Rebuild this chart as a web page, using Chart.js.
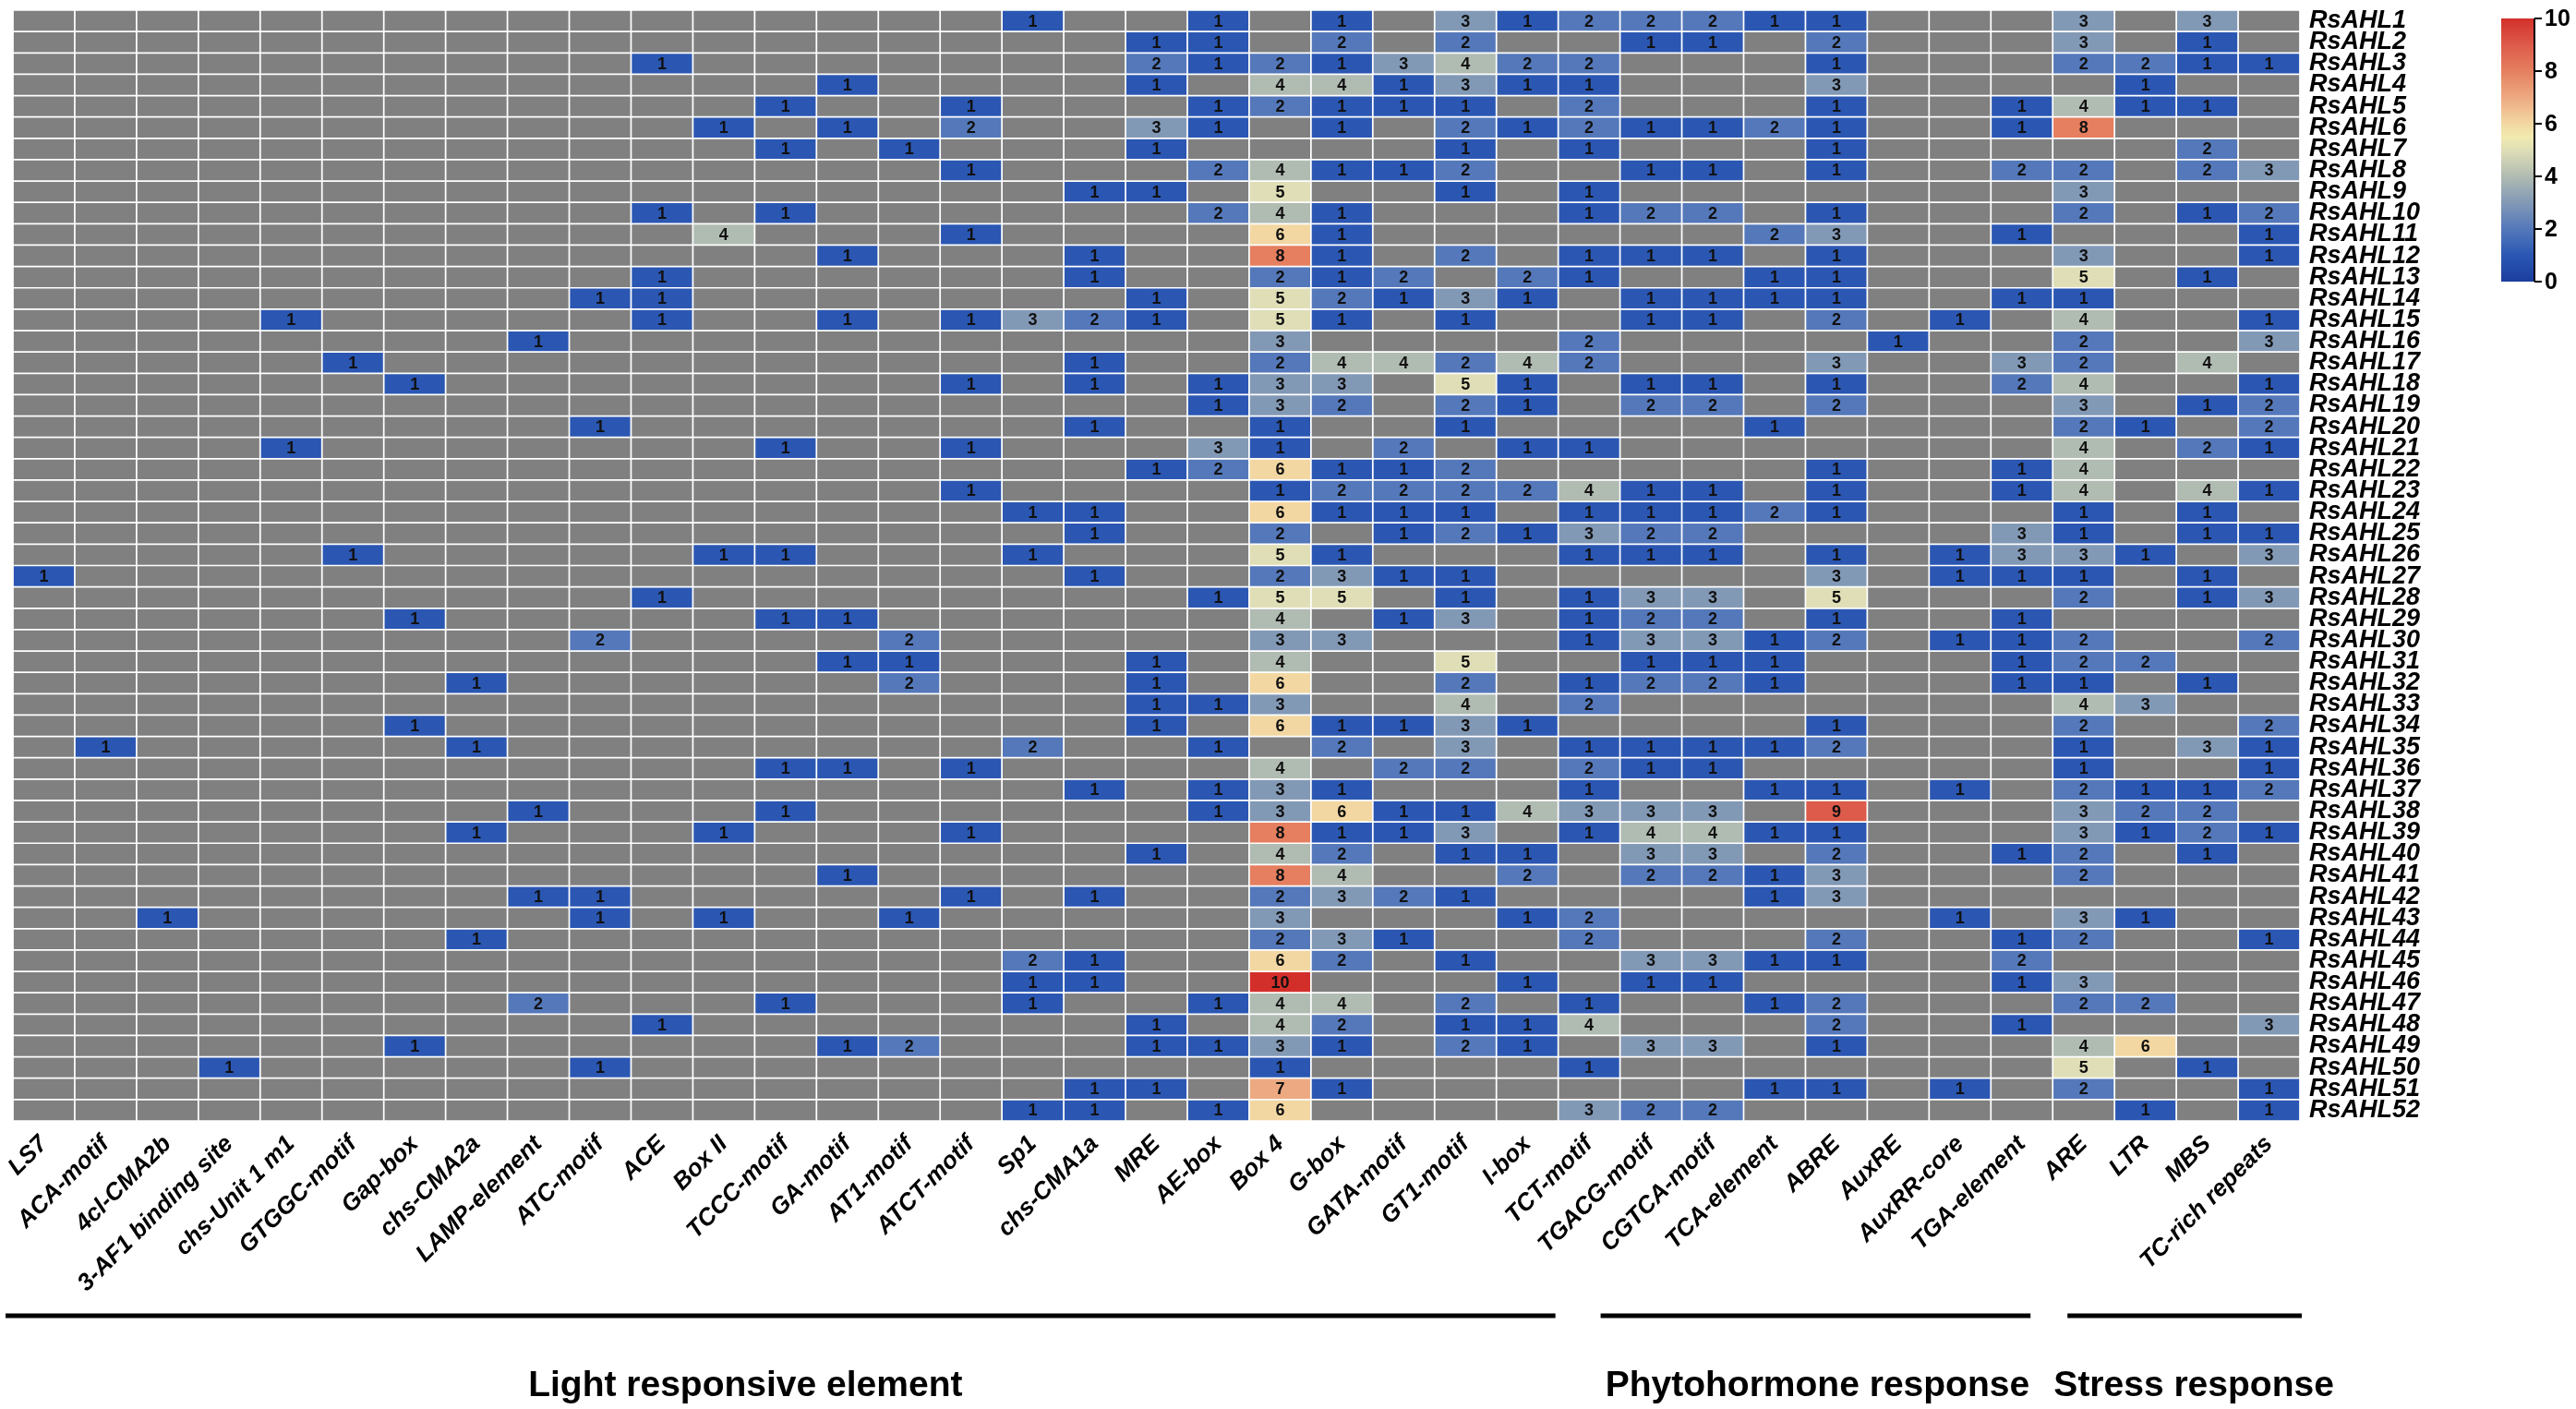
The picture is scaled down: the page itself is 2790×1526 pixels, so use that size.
<!DOCTYPE html>
<html><head><meta charset="utf-8">
<script src="https://cdn.jsdelivr.net/npm/chart.js@4.4.1/dist/chart.umd.min.js"></script>
<style>html,body{margin:0;padding:0;background:#fff;overflow:hidden}canvas{display:block}</style>
</head><body>
<canvas id="c" width="2790" height="1526" style="width:2790px;height:1526px"></canvas>
<script>
// ---------- DATA ----------
const elements = ["LS7","ACA-motif","4cl-CMA2b","3-AF1 binding site","chs-Unit 1 m1","GTGGC-motif","Gap-box","chs-CMA2a","LAMP-element","ATC-motif","ACE","Box II","TCCC-motif","GA-motif","AT1-motif","ATCT-motif","Sp1","chs-CMA1a","MRE","AE-box","Box 4","G-box","GATA-motif","GT1-motif","I-box","TCT-motif","TGACG-motif","CGTCA-motif","TCA-element","ABRE","AuxRE","AuxRR-core","TGA-element","ARE","LTR","MBS","TC-rich repeats"];
const genes = ["RsAHL1","RsAHL2","RsAHL3","RsAHL4","RsAHL5","RsAHL6","RsAHL7","RsAHL8","RsAHL9","RsAHL10","RsAHL11","RsAHL12","RsAHL13","RsAHL14","RsAHL15","RsAHL16","RsAHL17","RsAHL18","RsAHL19","RsAHL20","RsAHL21","RsAHL22","RsAHL23","RsAHL24","RsAHL25","RsAHL26","RsAHL27","RsAHL28","RsAHL29","RsAHL30","RsAHL31","RsAHL32","RsAHL33","RsAHL34","RsAHL35","RsAHL36","RsAHL37","RsAHL38","RsAHL39","RsAHL40","RsAHL41","RsAHL42","RsAHL43","RsAHL44","RsAHL45","RsAHL46","RsAHL47","RsAHL48","RsAHL49","RsAHL50","RsAHL51","RsAHL52"];
// LS7 ... ATCT-motif
const countsA = [
[0,0,0,0,0,0,0,0,0,0,0,0,0,0,0,0],[0,0,0,0,0,0,0,0,0,0,0,0,0,0,0,0],[0,0,0,0,0,0,0,0,0,0,1,0,0,0,0,0],[0,0,0,0,0,0,0,0,0,0,0,0,0,1,0,0],
[0,0,0,0,0,0,0,0,0,0,0,0,1,0,0,1],[0,0,0,0,0,0,0,0,0,0,0,1,0,1,0,2],[0,0,0,0,0,0,0,0,0,0,0,0,1,0,1,0],[0,0,0,0,0,0,0,0,0,0,0,0,0,0,0,1],
[0,0,0,0,0,0,0,0,0,0,0,0,0,0,0,0],[0,0,0,0,0,0,0,0,0,0,1,0,1,0,0,0],[0,0,0,0,0,0,0,0,0,0,0,4,0,0,0,1],[0,0,0,0,0,0,0,0,0,0,0,0,0,1,0,0],
[0,0,0,0,0,0,0,0,0,0,1,0,0,0,0,0],[0,0,0,0,0,0,0,0,0,1,1,0,0,0,0,0],[0,0,0,0,1,0,0,0,0,0,1,0,0,1,0,1],[0,0,0,0,0,0,0,0,1,0,0,0,0,0,0,0],
[0,0,0,0,0,1,0,0,0,0,0,0,0,0,0,0],[0,0,0,0,0,0,1,0,0,0,0,0,0,0,0,1],[0,0,0,0,0,0,0,0,0,0,0,0,0,0,0,0],[0,0,0,0,0,0,0,0,0,1,0,0,0,0,0,0],
[0,0,0,0,1,0,0,0,0,0,0,0,1,0,0,1],[0,0,0,0,0,0,0,0,0,0,0,0,0,0,0,0],[0,0,0,0,0,0,0,0,0,0,0,0,0,0,0,1],[0,0,0,0,0,0,0,0,0,0,0,0,0,0,0,0],
[0,0,0,0,0,0,0,0,0,0,0,0,0,0,0,0],[0,0,0,0,0,1,0,0,0,0,0,1,1,0,0,0],[1,0,0,0,0,0,0,0,0,0,0,0,0,0,0,0],[0,0,0,0,0,0,0,0,0,0,1,0,0,0,0,0],
[0,0,0,0,0,0,1,0,0,0,0,0,1,1,0,0],[0,0,0,0,0,0,0,0,0,2,0,0,0,0,2,0],[0,0,0,0,0,0,0,0,0,0,0,0,0,1,1,0],[0,0,0,0,0,0,0,1,0,0,0,0,0,0,2,0],
[0,0,0,0,0,0,0,0,0,0,0,0,0,0,0,0],[0,0,0,0,0,0,1,0,0,0,0,0,0,0,0,0],[0,1,0,0,0,0,0,1,0,0,0,0,0,0,0,0],[0,0,0,0,0,0,0,0,0,0,0,0,1,1,0,1],
[0,0,0,0,0,0,0,0,0,0,0,0,0,0,0,0],[0,0,0,0,0,0,0,0,1,0,0,0,1,0,0,0],[0,0,0,0,0,0,0,1,0,0,0,1,0,0,0,1],[0,0,0,0,0,0,0,0,0,0,0,0,0,0,0,0],
[0,0,0,0,0,0,0,0,0,0,0,0,0,1,0,0],[0,0,0,0,0,0,0,0,1,1,0,0,0,0,0,1],[0,0,1,0,0,0,0,0,0,1,0,1,0,0,1,0],[0,0,0,0,0,0,0,1,0,0,0,0,0,0,0,0],
[0,0,0,0,0,0,0,0,0,0,0,0,0,0,0,0],[0,0,0,0,0,0,0,0,0,0,0,0,0,0,0,0],[0,0,0,0,0,0,0,0,2,0,0,0,1,0,0,0],[0,0,0,0,0,0,0,0,0,0,1,0,0,0,0,0],
[0,0,0,0,0,0,1,0,0,0,0,0,0,1,2,0],[0,0,0,1,0,0,0,0,0,1,0,0,0,0,0,0],[0,0,0,0,0,0,0,0,0,0,0,0,0,0,0,0],[0,0,0,0,0,0,0,0,0,0,0,0,0,0,0,0]
];
// Sp1 ... TCA-element
const countsB = [
[1,0,0,1,0,1,0,3,1,2,2,2,1],[0,0,1,1,0,2,0,2,0,0,1,1,0],[0,0,2,1,2,1,3,4,2,2,0,0,0],[0,0,1,0,4,4,1,3,1,1,0,0,0],
[0,0,0,1,2,1,1,1,0,2,0,0,0],[0,0,3,1,0,1,0,2,1,2,1,1,2],[0,0,1,0,0,0,0,1,0,1,0,0,0],[0,0,0,2,4,1,1,2,0,0,1,1,0],
[0,1,1,0,5,0,0,1,0,1,0,0,0],[0,0,0,2,4,1,0,0,0,1,2,2,0],[0,0,0,0,6,1,0,0,0,0,0,0,2],[0,1,0,0,8,1,0,2,0,1,1,1,0],
[0,1,0,0,2,1,2,0,2,1,0,0,1],[0,0,1,0,5,2,1,3,1,0,1,1,1],[3,2,1,0,5,1,0,1,0,0,1,1,0],[0,0,0,0,3,0,0,0,0,2,0,0,0],
[0,1,0,0,2,4,4,2,4,2,0,0,0],[0,1,0,1,3,3,0,5,1,0,1,1,0],[0,0,0,1,3,2,0,2,1,0,2,2,0],[0,1,0,0,1,0,0,1,0,0,0,0,1],
[0,0,0,3,1,0,2,0,1,1,0,0,0],[0,0,1,2,6,1,1,2,0,0,0,0,0],[0,0,0,0,1,2,2,2,2,4,1,1,0],[1,1,0,0,6,1,1,1,0,1,1,1,2],
[0,1,0,0,2,0,1,2,1,3,2,2,0],[1,0,0,0,5,1,0,0,0,1,1,1,0],[0,1,0,0,2,3,1,1,0,0,0,0,0],[0,0,0,1,5,5,0,1,0,1,3,3,0],
[0,0,0,0,4,0,1,3,0,1,2,2,0],[0,0,0,0,3,3,0,0,0,1,3,3,1],[0,0,1,0,4,0,0,5,0,0,1,1,1],[0,0,1,0,6,0,0,2,0,1,2,2,1],
[0,0,1,1,3,0,0,4,0,2,0,0,0],[0,0,1,0,6,1,1,3,1,0,0,0,0],[2,0,0,1,0,2,0,3,0,1,1,1,1],[0,0,0,0,4,0,2,2,0,2,1,1,0],
[0,1,0,1,3,1,0,0,0,1,0,0,1],[0,0,0,1,3,6,1,1,4,3,3,3,0],[0,0,0,0,8,1,1,3,0,1,4,4,1],[0,0,1,0,4,2,0,1,1,0,3,3,0],
[0,0,0,0,8,4,0,0,2,0,2,2,1],[0,1,0,0,2,3,2,1,0,0,0,0,1],[0,0,0,0,3,0,0,0,1,2,0,0,0],[0,0,0,0,2,3,1,0,0,2,0,0,0],
[2,1,0,0,6,2,0,1,0,0,3,3,1],[1,1,0,0,10,0,0,0,1,0,1,1,0],[1,0,0,1,4,4,0,2,0,1,0,0,1],[0,0,1,0,4,2,0,1,1,4,0,0,0],
[0,0,1,1,3,1,0,2,1,0,3,3,0],[0,0,0,0,1,0,0,0,0,1,0,0,0],[0,1,1,0,7,1,0,0,0,0,0,0,1],[1,1,0,1,6,0,0,0,0,3,2,2,0]
];
// ABRE ... TC-rich repeats
const countsC = [
[1,0,0,0,3,0,3,0],[2,0,0,0,3,0,1,0],[1,0,0,0,2,2,1,1],[3,0,0,0,0,1,0,0],
[1,0,0,1,4,1,1,0],[1,0,0,1,8,0,0,0],[1,0,0,0,0,0,2,0],[1,0,0,2,2,0,2,3],
[0,0,0,0,3,0,0,0],[1,0,0,0,2,0,1,2],[3,0,0,1,0,0,0,1],[1,0,0,0,3,0,0,1],
[1,0,0,0,5,0,1,0],[1,0,0,1,1,0,0,0],[2,0,1,0,4,0,0,1],[0,1,0,0,2,0,0,3],
[3,0,0,3,2,0,4,0],[1,0,0,2,4,0,0,1],[2,0,0,0,3,0,1,2],[0,0,0,0,2,1,0,2],
[0,0,0,0,4,0,2,1],[1,0,0,1,4,0,0,0],[1,0,0,1,4,0,4,1],[1,0,0,0,1,0,1,0],
[0,0,0,3,1,0,1,1],[1,0,1,3,3,1,0,3],[3,0,1,1,1,0,1,0],[5,0,0,0,2,0,1,3],
[1,0,0,1,0,0,0,0],[2,0,1,1,2,0,0,2],[0,0,0,1,2,2,0,0],[0,0,0,1,1,0,1,0],
[0,0,0,0,4,3,0,0],[1,0,0,0,2,0,0,2],[2,0,0,0,1,0,3,1],[0,0,0,0,1,0,0,1],
[1,0,1,0,2,1,1,2],[9,0,0,0,3,2,2,0],[1,0,0,0,3,1,2,1],[2,0,0,1,2,0,1,0],
[3,0,0,0,2,0,0,0],[3,0,0,0,0,0,0,0],[0,0,1,0,3,1,0,0],[2,0,0,1,2,0,0,1],
[1,0,0,2,0,0,0,0],[0,0,0,1,3,0,0,0],[2,0,0,0,2,2,0,0],[2,0,0,1,0,0,0,3],
[1,0,0,0,4,6,0,0],[0,0,0,0,5,0,1,0],[1,0,1,0,2,0,0,1],[0,0,0,0,0,1,0,1]
];
const groupNames = ["Light responsive element","Phytohormone response","Stress response"];
const groupFirst = ["LS7","TGACG-motif","ARE"];
const groupLast = ["I-box","TGA-element","TC-rich repeats"];
const colorbarTicks = [0,2,4,6,8,10];

const counts = genes.map((g, i) => countsA[i].concat(countsB[i], countsC[i]));

// ---------- STYLE ----------
const FONT = "'Liberation Sans', Arial, sans-serif";
const EMPTY = '#808080';
const stops = [[0,[27,62,158]],[1,[43,87,179]],[2,[84,120,186]],[3,[130,153,182]],[4,[176,187,178]],[5,[223,222,182]],[5.5,[241,234,176]],[6,[242,215,162]],[7,[237,169,129]],[8,[229,127,95]],[9,[220,91,74]],[10,[211,47,42]]];
function ramp(v){
  for (let k = 1; k < stops.length; k++) {
    if (v <= stops[k][0]) {
      const [a, ca] = stops[k-1], [b, cb] = stops[k];
      const t = (v - a) / (b - a);
      const c = ca.map((x, n) => Math.round(x + (cb[n] - x) * t));
      return `rgb(${c[0]},${c[1]},${c[2]})`;
    }
  }
  const c = stops[stops.length-1][1];
  return `rgb(${c[0]},${c[1]},${c[2]})`;
}
const cellColor = v => v > 0 ? ramp(v) : EMPTY;

const LAYOUT = {
  left: 14, top: 11, plotRight: 2491, plotBottom: 1214,
  lineY: 1425, lineW: 5,
  lineShift: [[-8,-3],[-21,-24],[16,2]],
  labelShift: [-38, 2, 10],
  labelY: 1512,
  cbX: 2709, cbW: 36, cbTop: 20, cbBottom: 305
};

// ---------- PLUGINS ----------
const cellText = {
  id: 'cellText',
  afterDatasetsDraw(chart) {
    const {ctx, scales: {x, y}} = chart;
    ctx.save();
    ctx.font = "bold 18px 'Liberation Sans Narrow', " + FONT;
    ctx.fillStyle = '#111';
    ctx.textAlign = 'center';
    ctx.textBaseline = 'middle';
    counts.forEach((row, i) => row.forEach((v, j) => {
      if (v > 0) ctx.fillText(String(v), x.getPixelForValue(j), y.getPixelForValue(i + 0.5) + 1);
    }));
    ctx.restore();
  }
};

const groups = {
  id: 'groups',
  afterDraw(chart) {
    const {ctx, scales: {x}} = chart;
    const half = (x.getPixelForValue(1) - x.getPixelForValue(0)) / 2;
    ctx.save();
    groupNames.forEach((name, g) => {
      const x0 = x.getPixelForValue(elements.indexOf(groupFirst[g])) - half + LAYOUT.lineShift[g][0];
      const x1 = x.getPixelForValue(elements.indexOf(groupLast[g])) + half + LAYOUT.lineShift[g][1];
      ctx.fillStyle = '#000';
      ctx.fillRect(x0, LAYOUT.lineY - LAYOUT.lineW / 2, x1 - x0, LAYOUT.lineW);
      ctx.font = "bold 39px " + FONT;
      ctx.textAlign = 'center';
      ctx.textBaseline = 'alphabetic';
      ctx.fillText(name, (x0 + x1) / 2 + LAYOUT.labelShift[g], LAYOUT.labelY);
    });
    ctx.restore();
  }
};

const colorbar = {
  id: 'colorbar',
  afterDraw(chart) {
    const ctx = chart.ctx;
    const L = LAYOUT;
    const lo = colorbarTicks[0], hi = colorbarTicks[colorbarTicks.length - 1];
    const yOf = v => L.cbBottom - (v - lo) / (hi - lo) * (L.cbBottom - L.cbTop);
    ctx.save();
    const grad = ctx.createLinearGradient(0, L.cbBottom, 0, L.cbTop);
    for (let v = lo; v <= hi; v += 0.25) grad.addColorStop((v - lo) / (hi - lo), ramp(v));
    ctx.fillStyle = grad;
    ctx.fillRect(L.cbX, L.cbTop, L.cbW, L.cbBottom - L.cbTop);
    ctx.strokeStyle = '#000';
    ctx.lineWidth = 2;
    ctx.beginPath();
    ctx.moveTo(L.cbX + L.cbW, L.cbTop);
    ctx.lineTo(L.cbX + L.cbW, L.cbBottom);
    colorbarTicks.forEach(t => {
      ctx.moveTo(L.cbX + L.cbW, yOf(t));
      ctx.lineTo(L.cbX + L.cbW + 8, yOf(t));
    });
    ctx.stroke();
    ctx.fillStyle = '#000';
    ctx.font = "bold 25px " + FONT;
    ctx.textAlign = 'left';
    ctx.textBaseline = 'middle';
    colorbarTicks.forEach(t => ctx.fillText(String(t), L.cbX + L.cbW + 11, yOf(t) + 1));
    ctx.restore();
  }
};

// ---------- CHART ----------
const datasets = genes.map((g, i) => ({
  label: g,
  data: elements.map(() => [i, i + 1]),
  backgroundColor: counts[i].map(cellColor),
  borderColor: '#ffffff',
  borderWidth: 1.2,
  borderSkipped: false,
  barPercentage: 1,
  categoryPercentage: 1,
  grouped: false
}));

new Chart(document.getElementById('c'), {
  type: 'bar',
  data: { labels: elements, datasets },
  options: {
    responsive: false,
    animation: false,
    events: [],
    layout: { padding: { left: LAYOUT.left, top: LAYOUT.top, right: 0, bottom: 0 } },
    plugins: { legend: { display: false }, tooltip: { enabled: false } },
    scales: {
      x: {
        type: 'category',
        grid: { display: false, drawTicks: false },
        border: { display: false },
        ticks: {
          autoSkip: false, minRotation: 45, maxRotation: 45, padding: 10, color: '#000',
          font: { family: FONT, size: 26, style: 'italic', weight: 'bold' }
        },
        afterFit(s) { s.height = 1526 - LAYOUT.plotBottom; s.paddingLeft = 0; s.paddingRight = 0; }
      },
      y: {
        type: 'linear', position: 'right', min: 0, max: genes.length, reverse: true,
        grid: { display: false, drawTicks: false },
        border: { display: false },
        afterBuildTicks(s) { s.ticks = genes.map((g, i) => ({ value: i + 0.5 })); },
        ticks: {
          autoSkip: false, padding: 10, color: '#000',
          font: { family: FONT, size: 27, style: 'italic', weight: 'bold' },
          callback: v => genes[Math.floor(v)]
        },
        afterFit(s) { s.width = 2790 - LAYOUT.plotRight; s.paddingTop = 0; s.paddingBottom = 0; }
      }
    }
  },
  plugins: [cellText, groups, colorbar]
});
</script>
</body></html>
